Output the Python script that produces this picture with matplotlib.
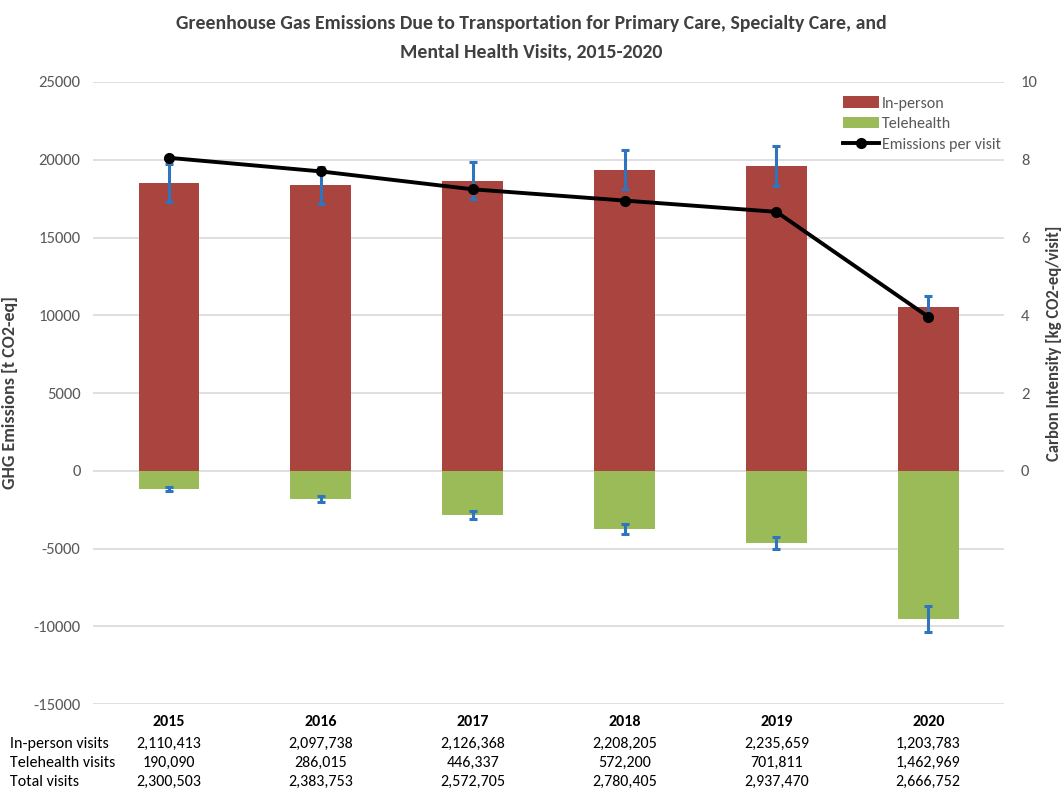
import matplotlib
matplotlib.use("Agg")
import matplotlib.pyplot as plt
import matplotlib.transforms as mtransforms
import numpy as np

plt.rcParams['font.family'] = ['Carlito', 'Liberation Sans', 'DejaVu Sans']
plt.rcParams['axes.unicode_minus'] = False

years = ["2015", "2016", "2017", "2018", "2019", "2020"]
in_person = [18500, 18350, 18650, 19350, 19600, 10550]
in_person_err = [1200, 1200, 1200, 1250, 1280, 700]
telehealth = [-1150, -1800, -2850, -3750, -4650, -9550]
telehealth_err = [120, 180, 250, 330, 380, 850]
emissions_per_visit = [8.05, 7.70, 7.24, 6.95, 6.66, 3.96]

row_labels = ["In-person visits", "Telehealth visits", "Total visits"]
inperson_visits = ["2,110,413", "2,097,738", "2,126,368", "2,208,205", "2,235,659", "1,203,783"]
telehealth_visits = ["190,090", "286,015", "446,337", "572,200", "701,811", "1,462,969"]
total_visits = ["2,300,503", "2,383,753", "2,572,705", "2,780,405", "2,937,470", "2,666,752"]

red = "#A9443F"
green = "#9BBB59"
blue = "#2E75C0"
tick_col = "#595959"
title_col = "#404040"

fig = plt.figure(figsize=(10.62, 7.93), dpi=100)
ax = fig.add_axes([0.0876, 0.1122, 0.858, 0.7844])
x = np.arange(len(years))

ax.bar(x, in_person, width=0.4, color=red, label="In-person", zorder=2)
ax.bar(x, telehealth, width=0.4, color=green, label="Telehealth", zorder=2)
ax.errorbar(x, in_person, yerr=in_person_err, fmt="none", ecolor=blue,
            elinewidth=2.2, capsize=3, capthick=2.2, zorder=3)
ax.errorbar(x, telehealth, yerr=telehealth_err, fmt="none", ecolor=blue,
            elinewidth=2.2, capsize=3, capthick=2.2, zorder=3)

ax.set_xlim(-0.5, len(years) - 0.5)
ax.set_ylim(-15000, 25000)
ax.set_yticks(np.arange(-15000, 25001, 5000))
ax.yaxis.grid(True, color="#D9D9D9", linewidth=1.2, zorder=0)
ax.set_axisbelow(True)
ax.set_xticks([])
for s in ax.spines.values():
    s.set_visible(False)
ax.tick_params(axis="y", length=0, labelsize=12, labelcolor=tick_col, pad=9)
ax.set_ylabel("GHG Emissions [t CO2-eq]", fontsize=13, fontweight="bold",
              color=title_col)
ax.yaxis.set_label_coords(-0.0823, 0.5)

ax2 = ax.twinx()
ax2.plot(x, emissions_per_visit, color="black", linewidth=2.8, marker="o",
         markersize=7, label="Emissions per visit", zorder=4)
ax2.set_ylim(-6, 10)
ax2.set_yticks([0, 2, 4, 6, 8, 10])
for s in ax2.spines.values():
    s.set_visible(False)
ax2.tick_params(axis="y", length=0, labelsize=12, labelcolor=tick_col, pad=12)
ax2.set_ylabel("Carbon Intensity [kg CO2-eq/visit]", fontsize=12,
               fontweight="bold", color=title_col, rotation=90)
ax2.yaxis.set_label_coords(1.046, 0.58)
ax.set_zorder(1)
ax.patch.set_visible(False)
ax2.set_zorder(2)

h1, l1 = ax.get_legend_handles_labels()
h2, l2 = ax2.get_legend_handles_labels()
leg = ax2.legend(h1 + h2, l1 + l2, loc="upper right", bbox_to_anchor=(1.012, 1.0),
                 frameon=False, fontsize=11.5, handlelength=2.3, handletextpad=0.15,
                 labelspacing=0.4)
for t in leg.get_texts():
    t.set_color(tick_col)

fig.text(0.5, 0.970, "Greenhouse Gas Emissions Due to Transportation for Primary Care, Specialty Care, and",
         ha="center", va="center", fontsize=14.2, fontweight="bold", color=title_col)
fig.text(0.5, 0.935, "Mental Health Visits, 2015-2020",
         ha="center", va="center", fontsize=14.2, fontweight="bold", color=title_col)

trans = mtransforms.blended_transform_factory(ax.transData, fig.transFigure)
row_y = [1 - 744 / 793, 1 - 763 / 793, 1 - 782 / 793]
year_y = 1 - 722 / 793
for i, yr in enumerate(years):
    ax.text(x[i], year_y, yr, transform=trans, ha="center", va="center",
            fontsize=11.5, color="black", fontweight="bold")
for r, vals in enumerate([inperson_visits, telehealth_visits, total_visits]):
    fig.text(0.009, row_y[r], row_labels[r], ha="left", va="center", fontsize=11.5, color="black")
    for i, v in enumerate(vals):
        ax.text(x[i], row_y[r], v, transform=trans, ha="center", va="center",
                fontsize=11.5, color="black")

fig.savefig("out.png", dpi=100)
